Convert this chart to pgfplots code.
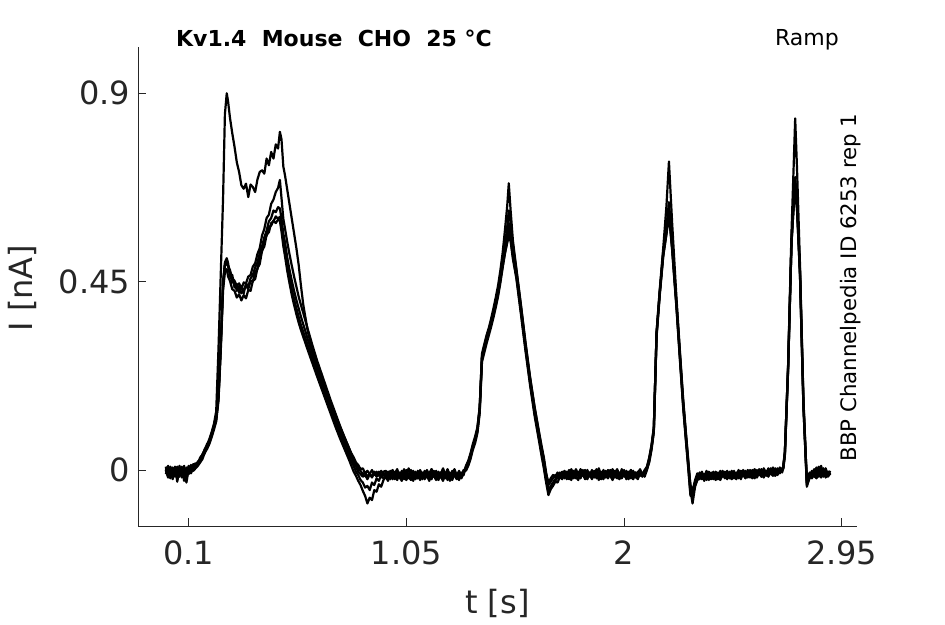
\documentclass[border=0pt]{standalone}
\usepackage{fontspec}
\setmainfont{DejaVu Sans}
\usepackage{pgfplots}
\usepackage{pgfplotstable}
\pgfplotsset{compat=1.18}
\definecolor{axgray}{HTML}{262626}
\pgfplotstableread{
t a b c d e
0.00 0.004 -0.010 0.008 -0.004 0.000
0.01 -0.012 0.006 -0.014 0.010 -0.018
0.02 0.006 -0.020 0.002 -0.012 0.008
0.03 -0.010 0.004 -0.022 0.006 -0.010
0.04 0.008 -0.012 0.006 -0.016 0.004
0.05 -0.028 0.008 -0.008 0.002 -0.020
0.06 0.002 -0.016 0.010 -0.010 0.006
0.07 -0.014 0.004 -0.018 0.008 -0.012
0.08 0.006 -0.026 0.002 -0.014 0.010
0.09 -0.010 0.006 -0.012 0.004 -0.030
0.10 0.010 -0.008 0.008 -0.010 0.002
0.11 -0.004 0.012 -0.006 0.010 -0.008
0.12 0.012 0.002 0.014 -0.002 0.008
0.13 0.016 0.008 0.012 0.004 0.010
0.14 0.014 0.016 0.020 0.010 0.018
0.15 0.030 0.022 0.026 0.018 0.020
0.16 0.036 0.032 0.038 0.026 0.034
0.17 0.050 0.040 0.048 0.042 0.044
0.18 0.058 0.054 0.062 0.050 0.058
0.19 0.074 0.066 0.070 0.062 0.068
0.20 0.090 0.082 0.088 0.078 0.084
0.21 0.110 0.100 0.106 0.096 0.104
0.22 0.140 0.120 0.126 0.116 0.122
0.23 0.290 0.175 0.180 0.165 0.172
0.24 0.470 0.295 0.305 0.285 0.298
0.25 0.650 0.440 0.452 0.430 0.445
0.258 0.850 0.490 0.496 0.472 0.488
0.266 0.900 0.502 0.506 0.480 0.496
0.272 0.880 0.488 0.494 0.462 0.486
0.28 0.842 0.478 0.462 0.452 0.470
0.29 0.805 0.458 0.466 0.432 0.448
0.30 0.772 0.452 0.436 0.428 0.450
0.31 0.735 0.440 0.444 0.412 0.428
0.32 0.712 0.446 0.424 0.420 0.438
0.33 0.680 0.432 0.440 0.405 0.422
0.34 0.672 0.448 0.422 0.418 0.430
0.35 0.684 0.446 0.446 0.410 0.440
0.36 0.652 0.462 0.438 0.430 0.432
0.37 0.682 0.466 0.458 0.428 0.452
0.38 0.676 0.486 0.466 0.452 0.450
0.39 0.664 0.494 0.484 0.456 0.474
0.40 0.694 0.516 0.496 0.482 0.480
0.41 0.712 0.530 0.518 0.492 0.508
0.42 0.716 0.560 0.534 0.524 0.522
0.43 0.708 0.576 0.556 0.534 0.550
0.44 0.744 0.602 0.572 0.562 0.560
0.45 0.728 0.610 0.594 0.568 0.580
0.46 0.760 0.636 0.602 0.590 0.584
0.47 0.744 0.646 0.620 0.594 0.596
0.48 0.778 0.664 0.616 0.606 0.590
0.49 0.768 0.674 0.628 0.600 0.598
0.498 0.808 0.693 0.625 0.605 0.595
0.505 0.790 0.650 0.600 0.585 0.570
0.513 0.725 0.600 0.565 0.548 0.535
0.52 0.705 0.578 0.545 0.526 0.512
0.53 0.670 0.545 0.508 0.490 0.476
0.54 0.635 0.515 0.478 0.460 0.446
0.55 0.600 0.488 0.452 0.432 0.418
0.56 0.565 0.462 0.428 0.408 0.394
0.57 0.530 0.438 0.406 0.386 0.372
0.58 0.490 0.414 0.386 0.366 0.352
0.59 0.440 0.394 0.366 0.346 0.334
0.60 0.395 0.375 0.348 0.330 0.318
0.62 0.330 0.336 0.312 0.298 0.286
0.64 0.288 0.298 0.278 0.266 0.255
0.66 0.254 0.262 0.245 0.234 0.224
0.68 0.222 0.230 0.214 0.204 0.194
0.70 0.192 0.198 0.182 0.174 0.164
0.72 0.162 0.166 0.152 0.144 0.134
0.74 0.132 0.136 0.122 0.114 0.104
0.76 0.104 0.106 0.094 0.086 0.076
0.78 0.078 0.078 0.068 0.060 0.050
0.80 0.052 0.052 0.042 0.034 0.024
0.81 0.040 0.036 0.032 0.020 0.010
0.82 0.030 0.028 0.016 0.010 -0.004
0.83 0.018 0.014 0.008 -0.004 -0.014
0.84 0.012 0.004 -0.004 -0.012 -0.026
0.85 0.002 -0.002 -0.010 -0.024 -0.036
0.86 0.004 -0.010 -0.016 -0.030 -0.050
0.87 -0.008 -0.006 -0.012 -0.042 -0.062
0.88 -0.002 -0.016 -0.022 -0.038 -0.080
0.89 -0.010 -0.008 -0.010 -0.048 -0.066
0.90 0.000 -0.018 -0.016 -0.030 -0.072
0.91 -0.012 -0.006 -0.004 -0.036 -0.048
0.92 -0.004 -0.016 -0.014 -0.020 -0.052
0.93 -0.014 -0.004 -0.006 -0.026 -0.034
0.94 -0.002 -0.014 -0.018 -0.012 -0.040
0.95 -0.012 -0.008 -0.004 -0.020 -0.024
0.96 -0.006 -0.018 -0.002 -0.014 -0.016
0.97 -0.016 -0.004 -0.020 -0.004 -0.026
0.98 -0.002 -0.022 -0.008 -0.018 -0.010
0.99 -0.020 -0.008 0.000 -0.006 -0.022
1.00 -0.008 -0.016 -0.014 -0.022 -0.004
1.01 0.002 -0.004 -0.024 -0.008 -0.016
1.02 -0.014 -0.020 -0.006 -0.016 -0.008
1.03 -0.004 -0.002 -0.016 -0.026 -0.020
1.04 -0.022 -0.014 0.002 -0.010 -0.004
1.05 -0.010 -0.024 -0.012 0.000 -0.018
1.06 0.004 -0.010 -0.020 -0.016 -0.008
1.07 -0.012 0.000 -0.006 -0.024 -0.014
1.08 -0.026 -0.016 -0.014 -0.004 -0.002
1.09 -0.006 -0.004 -0.022 -0.014 -0.020
1.10 -0.016 -0.020 -0.002 -0.020 -0.006
1.11 0.000 -0.010 -0.016 -0.002 -0.024
1.12 -0.014 -0.022 -0.006 -0.012 -0.008
1.13 -0.004 -0.002 -0.018 -0.022 -0.016
1.14 -0.018 -0.014 -0.004 -0.006 0.000
1.15 -0.008 -0.026 -0.012 -0.016 -0.014
1.16 0.002 -0.008 -0.020 0.002 -0.022
1.17 -0.016 -0.016 -0.002 -0.014 -0.006
1.18 -0.006 -0.002 -0.014 -0.024 -0.018
1.19 -0.020 -0.018 -0.024 -0.008 -0.004
1.20 -0.010 -0.006 -0.008 -0.018 -0.016
1.21 0.004 -0.020 0.000 -0.004 -0.026
1.22 -0.012 -0.010 -0.016 -0.020 -0.010
1.23 -0.024 0.000 -0.006 -0.010 0.002
1.24 -0.006 -0.014 -0.020 -0.026 -0.014
1.25 -0.014 -0.024 -0.010 -0.002 -0.022
1.26 0.000 -0.008 0.002 -0.014 -0.006
1.27 -0.016 -0.018 -0.014 -0.022 -0.016
1.28 -0.004 -0.004 -0.024 -0.006 -0.002
1.29 -0.018 -0.014 -0.006 -0.016 -0.020
1.30 -0.006 -0.002 -0.012 0.000 -0.008
1.31 0.008 0.004 0.010 -0.002 0.006
1.32 0.018 0.012 0.022 0.010 0.016
1.33 0.036 0.030 0.040 0.026 0.034
1.34 0.058 0.052 0.062 0.048 0.056
1.35 0.074 0.070 0.080 0.064 0.072
1.36 0.098 0.092 0.102 0.088 0.096
1.37 0.150 0.140 0.150 0.135 0.145
1.38 0.278 0.266 0.274 0.258 0.268
1.39 0.300 0.288 0.296 0.280 0.290
1.40 0.322 0.310 0.318 0.302 0.312
1.41 0.340 0.330 0.336 0.322 0.330
1.42 0.362 0.350 0.356 0.342 0.350
1.43 0.386 0.372 0.378 0.364 0.372
1.44 0.412 0.396 0.402 0.388 0.396
1.45 0.440 0.424 0.428 0.414 0.420
1.46 0.476 0.456 0.460 0.446 0.452
1.47 0.518 0.494 0.496 0.482 0.486
1.48 0.572 0.534 0.532 0.516 0.518
1.49 0.630 0.580 0.562 0.546 0.542
1.497 0.685 0.620 0.590 0.570 0.560
1.505 0.620 0.590 0.568 0.552 0.546
1.515 0.548 0.536 0.522 0.510 0.504
1.53 0.482 0.478 0.470 0.462 0.458
1.55 0.395 0.392 0.385 0.378 0.372
1.57 0.305 0.302 0.295 0.290 0.284
1.59 0.222 0.220 0.214 0.208 0.202
1.61 0.150 0.148 0.140 0.134 0.128
1.63 0.088 0.085 0.078 0.072 0.066
1.64 0.058 0.054 0.048 0.040 0.034
1.65 0.030 0.026 0.018 0.010 0.004
1.66 -0.006 -0.012 -0.010 -0.024 -0.030
1.67 -0.036 -0.048 -0.030 -0.052 -0.060
1.68 -0.028 -0.038 -0.020 -0.044 -0.046
1.69 -0.020 -0.030 -0.012 -0.034 -0.038
1.70 -0.012 -0.022 -0.016 -0.026 -0.028
1.71 -0.018 -0.012 -0.006 -0.018 -0.030
1.72 -0.006 -0.020 -0.014 -0.010 -0.016
1.73 -0.016 -0.006 -0.022 -0.018 -0.004
1.74 -0.002 -0.018 -0.008 -0.006 -0.020
1.75 -0.012 -0.004 -0.016 -0.022 -0.010
1.76 -0.022 -0.014 0.000 -0.010 -0.002
1.77 -0.004 -0.024 -0.012 0.002 -0.018
1.78 -0.014 -0.002 -0.020 -0.014 -0.008
1.79 0.002 -0.016 -0.004 -0.020 -0.016
1.80 -0.010 -0.008 -0.014 -0.004 -0.024
1.81 -0.020 -0.018 0.002 -0.016 -0.006
1.82 -0.006 0.000 -0.010 -0.008 -0.014
1.83 -0.014 -0.014 -0.022 0.000 -0.002
1.84 0.000 -0.022 -0.006 -0.018 -0.016
1.85 -0.016 -0.006 -0.014 -0.006 -0.010
1.86 -0.004 -0.012 0.000 -0.020 -0.022
1.87 -0.018 -0.002 -0.016 -0.010 -0.004
1.88 -0.008 -0.020 -0.008 0.002 -0.014
1.89 0.004 -0.010 -0.024 -0.014 -0.006
1.90 -0.012 -0.016 -0.004 -0.022 -0.018
1.91 -0.022 -0.004 -0.012 -0.006 0.000
1.92 -0.006 -0.018 -0.002 -0.016 -0.012
1.93 -0.014 -0.006 -0.018 0.000 -0.020
1.94 0.000 -0.014 -0.008 -0.012 -0.006
1.95 -0.010 -0.024 0.002 -0.020 -0.014
1.96 -0.018 -0.008 -0.014 -0.004 -0.002
1.97 -0.004 0.002 -0.020 -0.014 -0.018
1.98 -0.016 -0.012 -0.006 -0.022 -0.008
1.99 0.002 -0.020 -0.012 -0.008 -0.016
2.00 -0.010 -0.004 0.000 -0.016 -0.004
2.01 -0.020 -0.014 -0.018 -0.002 -0.022
2.02 -0.006 -0.022 -0.004 -0.012 -0.010
2.03 -0.014 0.000 -0.014 -0.020 0.000
2.04 -0.002 -0.012 -0.022 -0.004 -0.014
2.05 -0.016 -0.018 -0.006 -0.014 -0.006
2.06 -0.008 -0.004 -0.016 -0.022 -0.018
2.07 0.002 -0.014 -0.002 -0.008 -0.004
2.08 -0.012 -0.006 -0.012 -0.016 -0.014
2.09 -0.004 -0.016 0.000 -0.004 -0.002
2.10 0.006 0.000 0.008 0.002 0.004
2.11 0.028 0.022 0.030 0.018 0.024
2.12 0.058 0.052 0.060 0.048 0.054
2.13 0.100 0.094 0.102 0.090 0.096
2.142 0.330 0.322 0.328 0.318 0.325
2.156 0.432 0.424 0.428 0.418 0.422
2.171 0.530 0.518 0.520 0.510 0.512
2.185 0.630 0.580 0.575 0.565 0.562
2.196 0.737 0.640 0.625 0.615 0.610
2.21 0.590 0.545 0.535 0.528 0.525
2.229 0.410 0.400 0.395 0.390 0.386
2.245 0.275 0.270 0.264 0.258 0.254
2.258 0.170 0.166 0.160 0.154 0.150
2.27 0.090 0.086 0.080 0.074 0.070
2.28 0.026 0.022 0.016 0.010 0.006
2.29 -0.040 -0.048 -0.036 -0.058 -0.062
2.299 -0.066 -0.080 -0.052 -0.064 -0.048
2.31 -0.030 -0.040 -0.024 -0.036 -0.028
2.32 -0.014 -0.024 -0.008 -0.020 -0.012
2.33 -0.008 -0.020 -0.016 -0.006 -0.022
2.34 -0.022 -0.010 -0.004 -0.018 -0.008
2.35 -0.010 -0.026 -0.020 -0.010 -0.016
2.36 -0.018 -0.006 -0.010 -0.024 -0.002
2.37 -0.004 -0.016 -0.024 -0.008 -0.020
2.38 -0.020 -0.022 -0.006 -0.016 -0.010
2.39 -0.012 -0.004 -0.018 -0.022 -0.018
2.40 -0.024 -0.018 -0.008 -0.004 -0.006
2.41 -0.006 -0.010 -0.022 -0.014 -0.022
2.42 -0.016 -0.024 -0.002 -0.020 -0.012
2.43 -0.002 -0.012 -0.016 -0.006 -0.004
2.44 -0.018 -0.004 -0.010 -0.018 -0.020
2.45 -0.010 -0.020 -0.022 -0.002 -0.008
2.46 -0.020 -0.008 -0.004 -0.016 -0.016
2.47 -0.004 -0.016 -0.014 -0.022 -0.002
2.48 -0.014 -0.002 -0.020 -0.008 -0.018
2.49 -0.022 -0.018 -0.006 -0.014 -0.010
2.50 -0.006 -0.010 -0.016 0.000 -0.020
2.51 -0.016 -0.022 -0.002 -0.018 -0.004
2.52 0.000 -0.006 -0.012 -0.010 -0.014
2.53 -0.012 -0.016 -0.020 -0.002 -0.008
2.54 -0.004 0.000 -0.006 -0.016 -0.018
2.55 -0.018 -0.012 -0.014 -0.006 0.000
2.56 -0.008 -0.020 0.000 -0.012 -0.012
2.57 0.002 -0.004 -0.010 -0.020 -0.004
2.58 -0.012 -0.014 -0.018 0.000 -0.016
2.59 -0.004 0.002 -0.004 -0.010 -0.006
2.60 -0.016 -0.010 -0.012 -0.016 0.002
2.61 0.000 -0.018 0.004 -0.004 -0.012
2.62 -0.010 -0.002 -0.008 -0.014 -0.002
2.63 0.004 -0.012 -0.016 0.002 -0.014
2.64 -0.008 0.004 -0.002 -0.010 -0.004
2.65 -0.014 -0.008 0.006 -0.002 -0.010
2.66 0.002 -0.014 -0.008 -0.012 0.004
2.67 -0.006 0.000 -0.012 0.004 -0.008
2.68 0.006 -0.008 0.002 -0.006 0.000
2.69 -0.002 0.004 -0.006 0.002 -0.004
2.695 0.008 0.004 0.010 0.002 0.006
2.702 0.042 0.038 0.044 0.034 0.040
2.716 0.250 0.240 0.246 0.236 0.242
2.731 0.570 0.545 0.550 0.540 0.545
2.740 0.720 0.640 0.635 0.628 0.625
2.747 0.840 0.700 0.690 0.680 0.675
2.755 0.720 0.640 0.632 0.625 0.622
2.768 0.490 0.478 0.472 0.466 0.462
2.783 0.170 0.164 0.158 0.152 0.148
2.798 -0.030 -0.036 -0.026 -0.040 -0.032
2.81 -0.012 -0.020 -0.006 -0.016 -0.010
2.82 -0.004 -0.012 -0.018 -0.002 -0.020
2.83 -0.016 0.002 -0.006 -0.014 -0.008
2.84 -0.006 -0.016 0.006 -0.020 -0.002
2.85 0.008 -0.004 -0.012 -0.004 -0.016
2.86 -0.012 -0.018 -0.002 0.010 -0.006
2.87 -0.002 -0.006 -0.016 -0.012 0.004
2.88 -0.018 0.004 -0.004 -0.002 -0.014
2.89 -0.004 -0.012 -0.014 -0.016 -0.004
2.90 -0.010 -0.002 -0.006 -0.008 -0.012
}\ramp
\begin{document}
\begin{tikzpicture}[x=1pt,y=1pt]
\path[use as bounding box] (0,0) rectangle (945,624);
\begin{axis}[
  at={(138pt,98pt)}, anchor=south west,
  scale only axis, width=718.7pt, height=479.3pt,
  xmin=-0.1213, xmax=3.0155, ymin=-0.1338, ymax=1.0113,
  axis x line=bottom, axis y line=left,
  axis line style={-, draw=axgray, line width=0.9pt},
  tick style={draw=axgray, line width=0.9pt},
  tick align=inside, major tick length=8pt,
  xtick={0.1,1.05,2,2.95}, xticklabels={0.1,1.05,2,2.95},
  ytick={0,0.45,0.9}, yticklabels={0,0.45,0.9},
  /pgf/number format/assume math mode=true,
  ticklabel style={font=\fontsize{32}{38}\selectfont, text=axgray},
  xticklabel style={yshift=-11.6pt},
  yticklabel style={xshift=-4.3pt},
  xlabel={t [s]}, ylabel={I [nA]},
  label style={font=\fontsize{32}{38}\selectfont, text=axgray},
  xlabel style={at={(axis description cs:0.5,-0.1617)}, anchor=center},
  ylabel style={at={(axis description cs:-0.1607,0.4966)}, anchor=center},
]
\addplot[black, line width=2.2pt, line join=round] table[x=t,y=e] {\ramp};
\addplot[black, line width=2.2pt, line join=round] table[x=t,y=d] {\ramp};
\addplot[black, line width=2.2pt, line join=round] table[x=t,y=c] {\ramp};
\addplot[black, line width=2.2pt, line join=round] table[x=t,y=b] {\ramp};
\addplot[black, line width=2.2pt, line join=round] table[x=t,y=a] {\ramp};
\end{axis}
\node[anchor=base, font=\bfseries\fontsize{22}{26}\selectfont] at (334,577.3) {Kv1.4\ \ Mouse\ \ CHO\ \ 25 °C};
\node[anchor=base, font=\fontsize{22}{26}\selectfont] at (807,578) {Ramp};
\node[rotate=90, font=\fontsize{21.3}{25}\selectfont] at (850.5,336.5) {BBP Channelpedia ID 6253 rep 1};
\end{tikzpicture}
\end{document}
